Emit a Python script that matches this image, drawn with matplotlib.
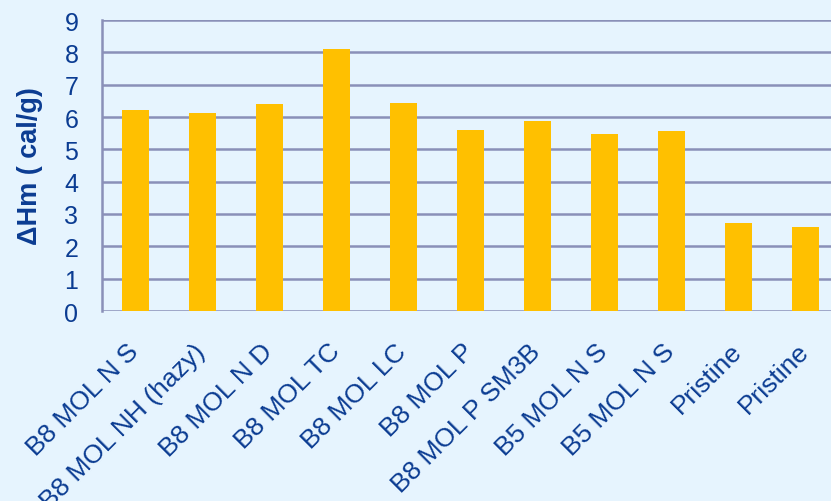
import matplotlib
matplotlib.use('Agg')
import matplotlib.pyplot as plt
import matplotlib.transforms as mtransforms
import numpy as np

# echantillons et enthalpie de fusion
samples = ['B8 MOL N S', 'B8 MOL NH (hazy)', 'B8 MOL N D', 'B8 MOL TC', 'B8 MOL LC',
           'B8 MOL P', 'B8 MOL P SM3B', 'B5 MOL N S', 'B5 MOL N S', 'Pristine', 'Pristine']
dhm = [6.23, 6.11, 6.39, 8.11, 6.44, 5.61, 5.88, 5.48, 5.56, 2.73, 2.60]
yticks = list(range(0, 10))

bg = '#E6F4FE'
bar_col = '#FFC000'
txt_col = '#0B3C92'
grid_col = '#8A90B8'

plt.rcParams['font.family'] = ['Liberation Sans', 'DejaVu Sans']

fig = plt.figure(figsize=(8.31, 5.02), dpi=100, facecolor=bg)
ax = fig.add_axes([102/831, 1-312/502, 737/831, 291/502])
ax.set_facecolor(bg)

x = np.arange(len(samples))
ax.bar(x, dhm, width=0.40, color=bar_col, zorder=3)

ax.set_xlim(-0.5, len(samples) - 0.5)
ax.set_ylim(0, 9)
ax.set_yticks(yticks)
ax.set_yticklabels([str(v) for v in yticks], fontsize=18, color=txt_col)
ax.yaxis.grid(True, color=grid_col, lw=1.8, zorder=0)
ax.tick_params(axis='both', length=0)
ax.tick_params(axis='y', pad=17)
ax.tick_params(axis='x', pad=20)

ax.set_xticks(x)
ax.set_xticklabels(samples, rotation=45, ha='right', rotation_mode='anchor',
                   fontsize=19, color=txt_col)
# petit decalage vers la gauche des etiquettes
shift = mtransforms.ScaledTranslation(-9/100, 0, fig.dpi_scale_trans)
for lab in ax.get_xticklabels():
    lab.set_transform(lab.get_transform() + shift)

for s in ['top', 'right', 'bottom']:
    ax.spines[s].set_visible(False)
ax.spines['left'].set_color(grid_col)
ax.spines['left'].set_linewidth(1.8)

fig.text(30/831, 1-166.5/502, 'ΔHm ( cal/g)', rotation=90, ha='center', va='center',
         fontsize=19.5, fontweight='bold', color=txt_col)

fig.savefig('out.png', dpi=100, facecolor=bg)
